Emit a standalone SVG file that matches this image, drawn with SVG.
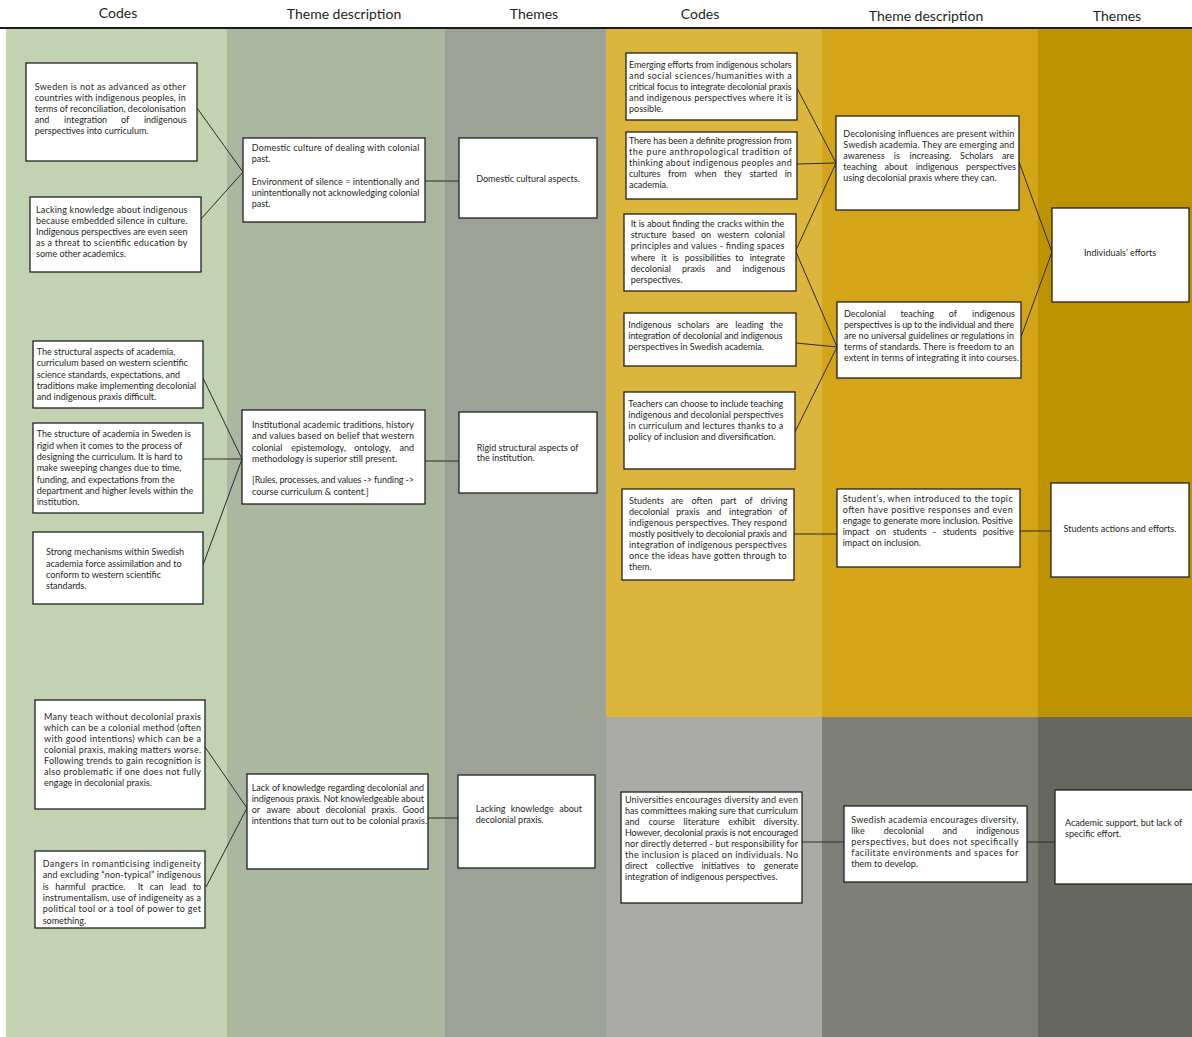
<svg xmlns="http://www.w3.org/2000/svg" width="1192" height="1037" viewBox="0 0 1192 1037">
<style>
.box{fill:#ffffff;stroke:#231f20;stroke-width:1.3}
.t{font-family:Lato,"Open Sans","Liberation Sans",sans-serif;font-size:9px;fill:#231f20}
.m{text-anchor:middle}
.h{font-family:Lato,"Open Sans","Liberation Sans",sans-serif;font-size:14px;fill:#231f20;text-anchor:middle}
.c{stroke:#2a2a2a;stroke-width:1;fill:none}
</style>
<rect x="0" y="0" width="1192" height="1037" fill="#ffffff"/>
<g id="background">
<rect x="6" y="29" width="221" height="1008" fill="#c1d3b1"/>
<rect x="227" y="29" width="218" height="1008" fill="#aab89f"/>
<rect x="445" y="29" width="161" height="1008" fill="#9ca396"/>
<rect x="606" y="29" width="216" height="688" fill="#dcb63c"/>
<rect x="822" y="29" width="216" height="688" fill="#d4a519"/>
<rect x="1038" y="29" width="154" height="688" fill="#be9302"/>
<rect x="606" y="717" width="216" height="320" fill="#aaaba6"/>
<rect x="822" y="717" width="216" height="320" fill="#7e8078"/>
<rect x="1038" y="717" width="154" height="320" fill="#666860"/>
<line x1="0" y1="28" x2="1192" y2="28" stroke="#1a1a1a" stroke-width="2"/>
</g>
<g id="headers">
<text class="h" x="118" y="18">Codes</text>
<text class="h" x="344" y="19">Theme description</text>
<text class="h" x="534" y="19">Themes</text>
<text class="h" x="700" y="19">Codes</text>
<text class="h" x="926" y="21">Theme description</text>
<text class="h" x="1117" y="21">Themes</text>
</g>
<g id="connectors">
<line class="c" x1="197" y1="108" x2="243" y2="172"/>
<line class="c" x1="201" y1="219" x2="243" y2="172"/>
<line class="c" x1="425" y1="181" x2="459" y2="181"/>
<line class="c" x1="203" y1="378" x2="242" y2="459"/>
<line class="c" x1="203" y1="459" x2="242" y2="459"/>
<line class="c" x1="203" y1="565" x2="242" y2="459"/>
<line class="c" x1="425" y1="461" x2="459" y2="461"/>
<line class="c" x1="205" y1="747" x2="247" y2="808"/>
<line class="c" x1="206" y1="887" x2="247" y2="808"/>
<line class="c" x1="428" y1="818" x2="458" y2="818"/>
<line class="c" x1="797" y1="88" x2="836" y2="163"/>
<line class="c" x1="797" y1="164" x2="836" y2="163"/>
<line class="c" x1="796" y1="250" x2="836" y2="163"/>
<line class="c" x1="796" y1="252" x2="837" y2="347"/>
<line class="c" x1="796" y1="343" x2="837" y2="347"/>
<line class="c" x1="795" y1="432" x2="837" y2="347"/>
<line class="c" x1="1019" y1="162" x2="1052" y2="252"/>
<line class="c" x1="1021" y1="337" x2="1052" y2="252"/>
<line class="c" x1="794" y1="534" x2="837" y2="534"/>
<line class="c" x1="1020" y1="531" x2="1051" y2="531"/>
<line class="c" x1="802" y1="842" x2="844" y2="842"/>
<line class="c" x1="1027" y1="842" x2="1055" y2="842"/>
</g>
<g id="A1">
<rect class="box" x="26" y="63" width="171" height="98"/>
<text class="t" x="34.7" y="90" textLength="151" lengthAdjust="spacing">Sweden is not as advanced as other</text>
<text class="t" x="34.7" y="101" textLength="151" lengthAdjust="spacing">countries with indigenous peoples, in</text>
<text class="t" x="34.7" y="112" textLength="151" lengthAdjust="spacing">terms of reconciliation, decolonisation</text>
<text class="t" y="123"><tspan x="34.7">and</tspan><tspan x="64.1">integration</tspan><tspan x="121.1">of</tspan><tspan x="143.9">indigenous</tspan></text>
<text class="t" x="34.7" y="134">perspectives into curriculum.</text>
</g>
<g id="A2">
<rect class="box" x="30" y="197" width="171" height="75"/>
<text class="t" x="36" y="213" textLength="151.5" lengthAdjust="spacing">Lacking knowledge about indigenous</text>
<text class="t" x="36" y="224" textLength="151.5" lengthAdjust="spacing">because embedded silence in culture.</text>
<text class="t" x="36" y="235" textLength="151.5" lengthAdjust="spacing">Indigenous perspectives are even seen</text>
<text class="t" x="36" y="246" textLength="151.5" lengthAdjust="spacing">as a threat to scientific education by</text>
<text class="t" x="36" y="257">some other academics.</text>
</g>
<g id="B1">
<rect class="box" x="243" y="138" width="182" height="84"/>
<text class="t" x="251.7" y="151" textLength="167.6" lengthAdjust="spacing">Domestic culture of dealing with colonial</text>
<text class="t" x="251.7" y="162">past.</text>
<text class="t" x="251.7" y="185" textLength="167.6" lengthAdjust="spacing">Environment of silence = intentionally and</text>
<text class="t" x="251.7" y="196" textLength="167.6" lengthAdjust="spacing">unintentionally not acknowledging colonial</text>
<text class="t" x="251.7" y="207">past.</text>
</g>
<g id="C1">
<rect class="box" x="459" y="138" width="138" height="80"/>
<text class="t m" x="528" y="182">Domestic cultural aspects.</text>
</g>
<g id="A3">
<rect class="box" x="33" y="341" width="170" height="67"/>
<text class="t" x="36.7" y="355">The structural aspects of academia,</text>
<text class="t" x="36.7" y="366.3">curriculum based on western scientific</text>
<text class="t" x="36.7" y="377.6">science standards, expectations, and</text>
<text class="t" x="36.7" y="388.9">traditions make implementing decolonial</text>
<text class="t" x="36.7" y="400.2">and indigenous praxis difficult.</text>
</g>
<g id="A4">
<rect class="box" x="33" y="423" width="170" height="90"/>
<text class="t" x="36.7" y="437.3">The structure of academia in Sweden is</text>
<text class="t" x="36.7" y="448.7">rigid when it comes to the process of</text>
<text class="t" x="36.7" y="460">designing  the curriculum. It is hard to</text>
<text class="t" x="36.7" y="471.3">make sweeping changes due to time,</text>
<text class="t" x="36.7" y="482.7">funding, and expectations from the</text>
<text class="t" x="36.7" y="494">department and higher levels within the</text>
<text class="t" x="36.7" y="505.3">institution.</text>
</g>
<g id="A5">
<rect class="box" x="33" y="532" width="170" height="72"/>
<text class="t" x="46" y="555.3">Strong mechanisms within Swedish</text>
<text class="t" x="46" y="566.7">academia force assimilation and to</text>
<text class="t" x="46" y="578">conform to western scientific</text>
<text class="t" x="46" y="589.3">standards.</text>
</g>
<g id="B2">
<rect class="box" x="242" y="410" width="183" height="94"/>
<text class="t" x="252" y="428" textLength="162" lengthAdjust="spacing">Institutional academic traditions, history</text>
<text class="t" x="252" y="439.3" textLength="162" lengthAdjust="spacing">and values based on belief that western</text>
<text class="t" y="450.7"><tspan x="252">colonial</tspan><tspan x="291.3">epistemology,</tspan><tspan x="354.2">ontology,</tspan><tspan x="399.6">and</tspan></text>
<text class="t" x="252" y="462">methodology is superior still present.</text>
<text class="t" x="252" y="483.3" textLength="162" lengthAdjust="spacing">[Rules, processes, and values -&gt; funding -&gt;</text>
<text class="t" x="252" y="494.7">course curriculum &amp; content.]</text>
</g>
<g id="C2">
<rect class="box" x="459" y="412" width="138" height="81"/>
<text class="t" x="476.7" y="450.5" textLength="101.6" lengthAdjust="spacing">Rigid structural aspects of</text>
<text class="t" x="476.7" y="461">the institution.</text>
</g>
<g id="A6">
<rect class="box" x="35" y="700" width="170" height="109"/>
<text class="t" x="44" y="720" textLength="157" lengthAdjust="spacing">Many teach without decolonial praxis</text>
<text class="t" x="44" y="731" textLength="157" lengthAdjust="spacing">which can be a colonial method (often</text>
<text class="t" x="44" y="742" textLength="157" lengthAdjust="spacing">with good intentions) which can be a</text>
<text class="t" x="44" y="753" textLength="157" lengthAdjust="spacing">colonial praxis, making matters worse.</text>
<text class="t" x="44" y="764" textLength="157" lengthAdjust="spacing">Following trends to gain recognition is</text>
<text class="t" x="44" y="775" textLength="157" lengthAdjust="spacing">also problematic if one does not fully</text>
<text class="t" x="44" y="786">engage in decolonial praxis.</text>
</g>
<g id="A7">
<rect class="box" x="35" y="851" width="170" height="77"/>
<text class="t" x="42.7" y="867" textLength="158.3" lengthAdjust="spacing">Dangers in romanticising indigeneity</text>
<text class="t" x="42.7" y="878.3" textLength="158.3" lengthAdjust="spacing">and excluding “non-typical” indigenous</text>
<text class="t" y="889.7"><tspan x="42.7">is</tspan><tspan x="55.2">harmful</tspan><tspan x="91.8">practice.</tspan><tspan x="137.7">It</tspan><tspan x="149.8">can</tspan><tspan x="170">lead</tspan><tspan x="192.9">to</tspan></text>
<text class="t" x="42.7" y="901" textLength="158.3" lengthAdjust="spacing">instrumentalism, use of indigeneity as a</text>
<text class="t" x="42.7" y="912.3" textLength="158.3" lengthAdjust="spacing">political tool or a tool of power to get</text>
<text class="t" x="42.7" y="923.7">something.</text>
</g>
<g id="B3">
<rect class="box" x="247" y="774" width="181" height="95"/>
<text class="t" x="251.7" y="791" textLength="172.3" lengthAdjust="spacing">Lack of knowledge regarding decolonial and</text>
<text class="t" x="251.7" y="802" textLength="172.3" lengthAdjust="spacing">indigenous praxis. Not knowledgeable about</text>
<text class="t" y="813"><tspan x="251.7">or</tspan><tspan x="266.5">aware</tspan><tspan x="296.5">about</tspan><tspan x="325.5">decolonial</tspan><tspan x="371.5">praxis.</tspan><tspan x="402.5">Good</tspan></text>
<text class="t" x="251.7" y="824">intentions that turn out to be colonial praxis.</text>
</g>
<g id="C3">
<rect class="box" x="458" y="775" width="137" height="93"/>
<text class="t" y="812"><tspan x="475.7">Lacking</tspan><tspan x="510.7">knowledge</tspan><tspan x="559.2">about</tspan></text>
<text class="t" x="475.7" y="823">decolonial praxis.</text>
</g>
<g id="D1">
<rect class="box" x="626" y="53" width="171" height="67"/>
<text class="t" x="629" y="67.5" textLength="162.7" lengthAdjust="spacing">Emerging efforts from indigenous scholars</text>
<text class="t" x="629" y="78.5" textLength="162.7" lengthAdjust="spacing">and social sciences/humanities with a</text>
<text class="t" x="629" y="89.5" textLength="162.7" lengthAdjust="spacing">critical focus to integrate decolonial praxis</text>
<text class="t" x="629" y="100.5" textLength="162.7" lengthAdjust="spacing">and indigenous perspectives where it is</text>
<text class="t" x="629" y="111.5">possible.</text>
</g>
<g id="D2">
<rect class="box" x="626" y="132" width="171" height="67"/>
<text class="t" x="629" y="143.5" textLength="162.7" lengthAdjust="spacing">There has been a definite progression from</text>
<text class="t" x="629" y="154.5" textLength="162.7" lengthAdjust="spacing">the pure anthropological tradition of</text>
<text class="t" x="629" y="165.5" textLength="162.7" lengthAdjust="spacing">thinking about indigenous peoples and</text>
<text class="t" y="176.5"><tspan x="629">cultures</tspan><tspan x="668">from</tspan><tspan x="694.6">when</tspan><tspan x="724.1">they</tspan><tspan x="749.4">started</tspan><tspan x="784.7">in</tspan></text>
<text class="t" x="629" y="187.5">academia.</text>
</g>
<g id="D3">
<rect class="box" x="624" y="214" width="172" height="77"/>
<text class="t" x="630.7" y="227" textLength="153.6" lengthAdjust="spacing">It is about finding the cracks within the</text>
<text class="t" y="238.2"><tspan x="630.7">structure</tspan><tspan x="671.9">based</tspan><tspan x="701">on</tspan><tspan x="717.2">western</tspan><tspan x="754.5">colonial</tspan></text>
<text class="t" x="630.7" y="249.4" textLength="153.6" lengthAdjust="spacing">principles and values - finding spaces</text>
<text class="t" y="260.6"><tspan x="630.7">where</tspan><tspan x="661.3">it</tspan><tspan x="672.7">is</tspan><tspan x="684.8">possibilities</tspan><tspan x="735.3">to</tspan><tspan x="749.7">integrate</tspan></text>
<text class="t" y="271.8"><tspan x="630.7">decolonial</tspan><tspan x="681.9">praxis</tspan><tspan x="716.3">and</tspan><tspan x="742.4">indigenous</tspan></text>
<text class="t" x="630.7" y="283">perspectives.</text>
</g>
<g id="D4">
<rect class="box" x="624" y="313" width="172" height="53"/>
<text class="t" y="328"><tspan x="628.3">Indigenous</tspan><tspan x="677.6">scholars</tspan><tspan x="715.9">are</tspan><tspan x="735.3">leading</tspan><tspan x="770.1">the</tspan></text>
<text class="t" x="628.3" y="339" textLength="154.4" lengthAdjust="spacing">integration of decolonial and indigenous</text>
<text class="t" x="628.3" y="350.3">perspectives in Swedish academia.</text>
</g>
<g id="D5">
<rect class="box" x="624" y="392" width="171" height="77"/>
<text class="t" x="628.3" y="407" textLength="155" lengthAdjust="spacing">Teachers can choose to include teaching</text>
<text class="t" x="628.3" y="418" textLength="155" lengthAdjust="spacing">indigenous and decolonial perspectives</text>
<text class="t" x="628.3" y="429" textLength="155" lengthAdjust="spacing">in curriculum and lectures thanks to a</text>
<text class="t" x="628.3" y="440.3">policy of inclusion and diversification.</text>
</g>
<g id="D6">
<rect class="box" x="622" y="489" width="172" height="91"/>
<text class="t" y="503.5"><tspan x="629">Students</tspan><tspan x="671">are</tspan><tspan x="691.6">often</tspan><tspan x="720.4">part</tspan><tspan x="744.4">of</tspan><tspan x="760.5">driving</tspan></text>
<text class="t" y="514.5"><tspan x="629">decolonial</tspan><tspan x="676.3">praxis</tspan><tspan x="706.8">and</tspan><tspan x="729.1">integration</tspan><tspan x="778.9">of</tspan></text>
<text class="t" x="629" y="525.5" textLength="157.7" lengthAdjust="spacing">indigenous perspectives. They respond</text>
<text class="t" x="629" y="536.5" textLength="157.7" lengthAdjust="spacing">mostly positively to decolonial praxis and</text>
<text class="t" x="629" y="547.7" textLength="157.7" lengthAdjust="spacing">integration of indigenous perspectives</text>
<text class="t" x="629" y="558.8" textLength="157.7" lengthAdjust="spacing">once the ideas have gotten through to</text>
<text class="t" x="629" y="570">them.</text>
</g>
<g id="E1">
<rect class="box" x="836" y="116" width="183" height="94"/>
<text class="t" x="843.3" y="136.5" textLength="171" lengthAdjust="spacing">Decolonising influences are present within</text>
<text class="t" x="843.3" y="147.5" textLength="171" lengthAdjust="spacing">Swedish academia. They are emerging and</text>
<text class="t" y="158.5"><tspan x="843.3">awareness</tspan><tspan x="893.8">is</tspan><tspan x="909.6">increasing.</tspan><tspan x="960.1">Scholars</tspan><tspan x="1001.9">are</tspan></text>
<text class="t" y="169.5"><tspan x="843.3">teaching</tspan><tspan x="884.6">about</tspan><tspan x="915.7">indigenous</tspan><tspan x="966.1">perspectives</tspan></text>
<text class="t" x="843.3" y="180.5">using decolonial praxis where they can.</text>
</g>
<g id="E2">
<rect class="box" x="837" y="302" width="184" height="76"/>
<text class="t" y="317"><tspan x="844">Decolonial</tspan><tspan x="900.4">teaching</tspan><tspan x="948.8">of</tspan><tspan x="972.1">indigenous</tspan></text>
<text class="t" x="844" y="328" textLength="170" lengthAdjust="spacing">perspectives is up to the individual and there</text>
<text class="t" x="844" y="339" textLength="170" lengthAdjust="spacing">are no universal guidelines or regulations in</text>
<text class="t" x="844" y="350" textLength="170" lengthAdjust="spacing">terms of standards. There is freedom to an</text>
<text class="t" x="844" y="361">extent in terms of integrating it into courses.</text>
</g>
<g id="E3">
<rect class="box" x="837" y="489" width="183" height="78"/>
<text class="t" x="842.7" y="501.5" textLength="170" lengthAdjust="spacing">Student’s, when introduced to the topic</text>
<text class="t" x="842.7" y="512.5" textLength="170" lengthAdjust="spacing">often have positive responses and even</text>
<text class="t" x="842.7" y="523.5" textLength="170" lengthAdjust="spacing">engage to generate more inclusion. Positive</text>
<text class="t" y="534.5"><tspan x="842.7">impact</tspan><tspan x="875.8">on</tspan><tspan x="892.7">students</tspan><tspan x="932.8">-</tspan><tspan x="942.7">students</tspan><tspan x="982.7">positive</tspan></text>
<text class="t" x="842.7" y="545.5">impact on inclusion.</text>
</g>
<g id="F1">
<rect class="box" x="1052" y="208" width="137" height="94"/>
<text class="t m" x="1120" y="256">Individuals’ efforts</text>
</g>
<g id="F2">
<rect class="box" x="1051" y="483" width="138" height="94"/>
<text class="t m" x="1120" y="532">Students actions and efforts.</text>
</g>
<g id="G1">
<rect class="box" x="621" y="792" width="181" height="111"/>
<text class="t" x="625" y="803" textLength="173" lengthAdjust="spacing">Universities encourages diversity and even</text>
<text class="t" x="625" y="814" textLength="173" lengthAdjust="spacing">has committees making sure that curriculum</text>
<text class="t" y="825"><tspan x="625">and</tspan><tspan x="648.6">course</tspan><tspan x="683.5">literature</tspan><tspan x="728.2">exhibit</tspan><tspan x="763.6">diversity.</tspan></text>
<text class="t" x="625" y="836" textLength="173" lengthAdjust="spacing">However, decolonial praxis is not encouraged</text>
<text class="t" x="625" y="847" textLength="173" lengthAdjust="spacing">nor directly deterred - but responsibility for</text>
<text class="t" x="625" y="858" textLength="173" lengthAdjust="spacing">the inclusion is placed on individuals. No</text>
<text class="t" y="869"><tspan x="625">direct</tspan><tspan x="656.1">collective</tspan><tspan x="701.4">initiatives</tspan><tspan x="746.8">to</tspan><tspan x="763.8">generate</tspan></text>
<text class="t" x="625" y="880">integration of indigenous perspectives.</text>
</g>
<g id="H1">
<rect class="box" x="844" y="806" width="183" height="76"/>
<text class="t" x="851.3" y="823" textLength="167" lengthAdjust="spacing">Swedish academia encourages diversity,</text>
<text class="t" y="834"><tspan x="851.3">like</tspan><tspan x="883.8">decolonial</tspan><tspan x="942.6">and</tspan><tspan x="976.3">indigenous</tspan></text>
<text class="t" x="851.3" y="845" textLength="167" lengthAdjust="spacing">perspectives, but does not specifically</text>
<text class="t" x="851.3" y="856" textLength="167" lengthAdjust="spacing">facilitate environments and spaces for</text>
<text class="t" x="851.3" y="867">them to develop.</text>
</g>
<g id="I1">
<rect class="box" x="1055" y="790" width="142" height="94"/>
<text class="t" x="1065" y="826">Academic support, but lack of</text>
<text class="t" x="1065" y="837">specific effort.</text>
</g>
</svg>
